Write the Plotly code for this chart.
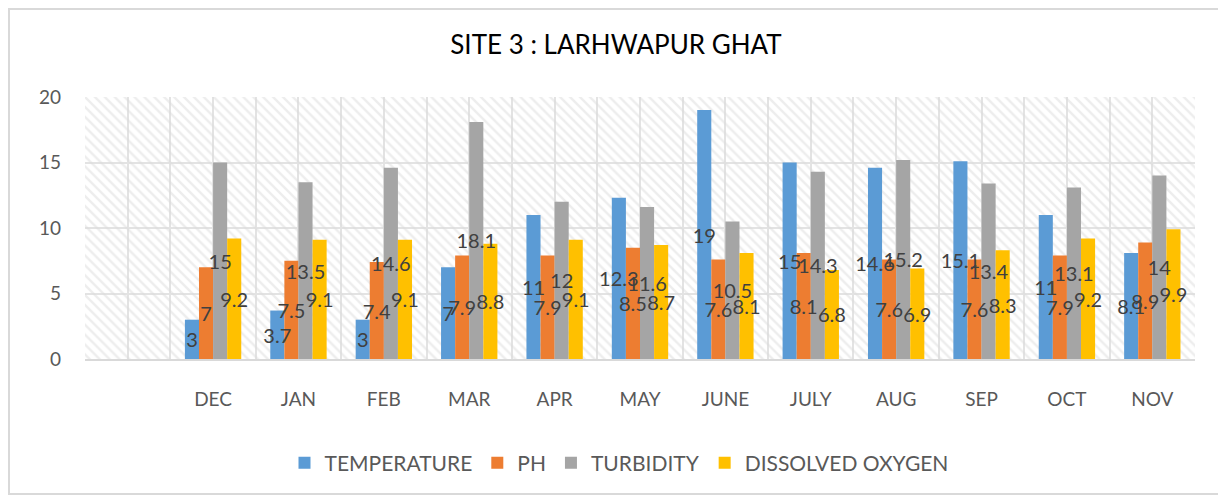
import plotly.graph_objects as go

months = ["DEC", "JAN", "FEB", "MAR", "APR", "MAY", "JUNE", "JULY", "AUG", "SEP", "OCT", "NOV"]
temperature = [3, 3.7, 3, 7, 11, 12.3, 19, 15, 14.6, 15.1, 11, 8.1]
ph = [7, 7.5, 7.4, 7.9, 7.9, 8.5, 7.6, 8.1, 7.6, 7.6, 7.9, 8.9]
turbidity = [15, 13.5, 14.6, 18.1, 12, 11.6, 10.5, 14.3, 15.2, 13.4, 13.1, 14]
dissolved_oxygen = [9.2, 9.1, 9.1, 8.8, 9.1, 8.7, 8.1, 6.8, 6.9, 8.3, 9.2, 9.9]

series = [
    ("TEMPERATURE", temperature, "#5B9BD5"),
    ("PH", ph, "#ED7D31"),
    ("TURBIDITY", turbidity, "#A5A5A5"),
    ("DISSOLVED OXYGEN", dissolved_oxygen, "#FFC000"),
]

FONT = "Lato"
XRANGE = [-1.5, 11.5]

# page body has an 8px margin: figure drawn at (8, 8)
W, H = 1218, 491
L, R, T, B = 77, 31, 89, 140
PW, PH_ = W - L - R, H - T - B


def px_x(sx):
    return (sx - 8 - L) / PW


def px_y(sy):
    return (H - B - (sy - 8)) / PH_


fig = go.Figure()

# hatched plot-area background on the base axes
fig.add_trace(go.Bar(
    x=[5], y=[1], width=[13], xaxis="x", yaxis="y",
    marker=dict(color="rgba(0,0,0,0)", line=dict(width=0),
                pattern=dict(shape="\\", size=7, solidity=0.35,
                             fgcolor="#dcdcdc", bgcolor="rgba(0,0,0,0)")),
    showlegend=False, hoverinfo="skip",
))

# data bars
for name, vals, col in series:
    fig.add_trace(go.Bar(
        x=months, y=vals, name=name, xaxis="x2", yaxis="y2",
        marker=dict(color=col, line=dict(width=0)),
    ))

# labels drawn on top of all bars
for name, vals, col in series:
    fig.add_trace(go.Bar(
        x=months, y=vals, xaxis="x4", yaxis="y4",
        marker=dict(color="rgba(0,0,0,0)", line=dict(width=0)),
        text=[f"{v:g}" for v in vals], textposition="inside",
        insidetextanchor="middle", constraintext="none", textangle=0,
        textfont=dict(family=FONT, size=20, color="#404040"),
        showlegend=False, hoverinfo="skip",
    ))

fig.update_layout(
    width=W, height=H,
    margin=dict(l=L, r=R, t=T, b=B, autoexpand=False),
    paper_bgcolor="white", plot_bgcolor="white",
    barmode="group", bargap=0.34, bargroupgap=0,
    font=dict(family=FONT, color="#595959"),
    title=dict(text="SITE 3 : LARHWAPUR GHAT", xref="container",
               x=(616 - 8) / W, xanchor="center",
               yref="container", y=1 - (45 - 8) / H, yanchor="middle",
               font=dict(family=FONT, size=26, color="#000000")),
    xaxis=dict(range=XRANGE, dtick=0.5, tick0=-1.5, showgrid=True,
               gridcolor="#e3e3e3", gridwidth=1.5, showticklabels=False,
               zeroline=False, showline=False, ticks=""),
    yaxis=dict(range=[0, 1], visible=False, showgrid=False, zeroline=False),
    xaxis2=dict(overlaying="x", type="category", categoryorder="array",
                categoryarray=months, range=XRANGE, showgrid=False,
                showline=True, linecolor="#d9d9d9", linewidth=2, ticks="",
                ticklabelstandoff=22,
                tickfont=dict(family=FONT, size=19, color="#595959")),
    yaxis2=dict(overlaying="y", range=[0, 20], dtick=5, showgrid=True,
                gridcolor="#e3e3e3", gridwidth=1.5, zeroline=False,
                showline=False, ticks="", ticklabelstandoff=23,
                tickfont=dict(family=FONT, size=19, color="#595959")),
    xaxis4=dict(overlaying="x", type="category", categoryorder="array",
                categoryarray=months, range=XRANGE, visible=False),
    yaxis4=dict(overlaying="y", range=[0, 20], visible=False),
    legend=dict(orientation="h", x=px_x(619), xanchor="center",
                y=px_y(463), yanchor="middle",
                font=dict(family=FONT, size=21, color="#595959"),
                itemclick=False),
    shapes=[dict(type="rect", xref="paper", yref="paper",
                 x0=px_x(9), x1=px_x(1219),
                 y0=px_y(494), y1=px_y(9),
                 line=dict(color="#d9d9d9", width=2), layer="below")],
)

fig.write_html("out.html")
